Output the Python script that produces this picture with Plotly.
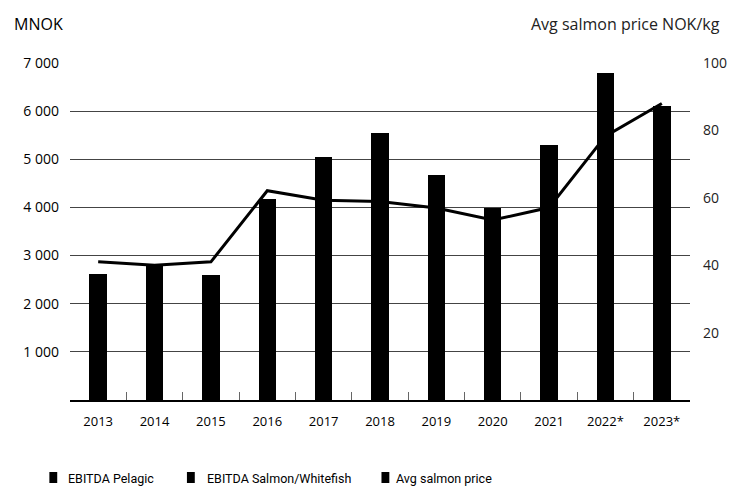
import plotly.graph_objects as go

# Austevoll-style EBITDA by segment (MNOK) and average salmon price (NOK/kg)
years = ["2013", "2014", "2015", "2016", "2017", "2018", "2019", "2020", "2021", "2022*", "2023*"]
ebitda_pelagic = [650, 700, 800, 900, 1050, 1320, 930, 1100, 1510, 2110, 2000]
ebitda_salmon_whitefish = [1970, 2100, 1790, 3280, 3990, 4230, 3750, 2890, 3790, 4690, 4100]
avg_salmon_price = [41.0, 40.0, 41.0, 62.1, 59.3, 58.9, 57.0, 53.4, 57.1, 78.3, 88.0]

left_ticks = [1000, 2000, 3000, 4000, 5000, 6000, 7000]
right_ticks = [20, 40, 60, 80, 100]

W, H = 739, 486
ML, MR, MT, MB = 70, 38, 63, 86
PW = W - ML - MR
PH = H - MT - MB

FONT = "Open Sans"
LEG_FONT = "Roboto"


def px_x(x):
    return (x - ML) / PW


def px_y(y):
    return (H - MB - y) / PH


fig = go.Figure()
fig.add_trace(go.Bar(x=years, y=ebitda_pelagic, name="EBITDA Pelagic",
                     marker=dict(color="black", line=dict(width=0)), width=0.31))
fig.add_trace(go.Bar(x=years, y=ebitda_salmon_whitefish, name="EBITDA Salmon/Whitefish",
                     marker=dict(color="black", line=dict(width=0)), width=0.31))
fig.add_trace(go.Scatter(x=years, y=avg_salmon_price, name="Avg salmon price", yaxis="y2",
                         mode="lines", line=dict(color="black", width=3)))

fig.update_layout(
    width=W, height=H,
    margin=dict(l=ML, r=MR, t=MT, b=MB),
    paper_bgcolor="white", plot_bgcolor="white",
    barmode="stack",
    showlegend=False,
    separators=", ",
    font=dict(family=FONT, size=14, color="black"),
    xaxis=dict(
        type="category", range=[-0.5, 10.5],
        showline=True, linecolor="black", linewidth=2,
        ticks="inside", tickson="boundaries", ticklen=8, tickwidth=1, tickcolor="#666",
        showgrid=False, tickfont=dict(size=13), ticklabelstandoff=8,
    ),
    yaxis=dict(
        range=[0, 7000], tickvals=left_ticks, tickformat=",d",
        showgrid=True, gridcolor="#444", gridwidth=1,
        zeroline=False, showline=False, ticks="", ticklabelstandoff=10,
        tickfont=dict(size=14),
    ),
    yaxis2=dict(
        overlaying="y", side="right", range=[0, 100], tickvals=right_ticks,
        showgrid=False, zeroline=False, showline=False, ticks="",
        ticklabelstandoff=12, tickfont=dict(size=14, color="#222"),
    ),
)

annotations = [
    dict(text="MNOK", x=px_x(11), y=px_y(24), xanchor="left", yanchor="middle",
         font=dict(size=16)),
    dict(text="Avg salmon price NOK/kg", x=px_x(734), y=px_y(24), xanchor="right",
         yanchor="middle", font=dict(size=16, color="#222")),
]

legend_items = [("EBITDA Pelagic", 49, 66), ("EBITDA Salmon/Whitefish", 189, 207),
                ("Avg salmon price", 387, 400)]
shapes = []
for label, sq_x, tx in legend_items:
    shapes.append(dict(type="rect", xref="paper", yref="paper",
                       x0=px_x(sq_x), x1=px_x(sq_x + 8), y0=px_y(483), y1=px_y(472),
                       fillcolor="black", line=dict(width=0)))
    annotations.append(dict(text=label, x=px_x(tx), y=px_y(478), xanchor="left",
                            yanchor="middle", font=dict(family=LEG_FONT, size=12.5)))

for a in annotations:
    a.update(xref="paper", yref="paper", showarrow=False)

fig.update_layout(annotations=annotations, shapes=shapes)

fig.write_html("out.html")
